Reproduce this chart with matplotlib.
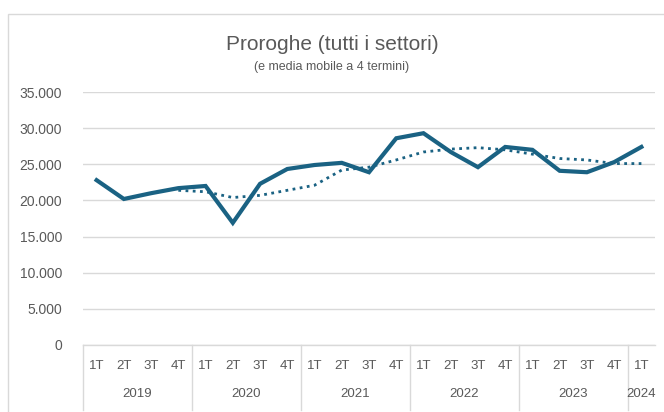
import matplotlib.pyplot as plt
import matplotlib.transforms as mtransforms
from matplotlib.patches import Rectangle

plt.rcParams['font.family'] = ['Liberation Sans', 'DejaVu Sans']

years = ['2019', '2020', '2021', '2022', '2023', '2024']
quarters = ['1T', '2T', '3T', '4T'] * 5 + ['1T']
proroghe = [22800, 20200, 21000, 21700,
            22000, 16900, 22300, 24350,
            24900, 25200, 23900, 28600,
            29300, 26700, 24600, 27400,
            27000, 24100, 23900, 25300,
            27400]
# media mobile a 4 termini (parte dal 4T 2019)
media_mobile = [21400, 21200, 20400, 20700, 21400,
                22100, 24200, 24600, 25600,
                26700, 27100, 27300, 27000,
                26400, 25800, 25600, 25100,
                25100]

blue = '#1a6283'
grey = '#595959'

fig = plt.figure(figsize=(6.64, 4.12), dpi=100)
fig.patches.append(Rectangle((8/664, -0.2), 1.0, 1.2 - 14/412, transform=fig.transFigure,
                             fill=False, edgecolor='#d9d9d9', linewidth=1))
ax = fig.add_axes([83/664, 1 - 345/412, (655 - 83)/664, (345 - 92)/412])

x = list(range(len(proroghe)))
ax.plot(x, proroghe, color=blue, linewidth=3, solid_joinstyle='miter')
ax.plot(x[3:], media_mobile, color=blue, linewidth=2, linestyle=(0, (1, 1.6)))

ax.set_xlim(-0.5, len(proroghe) - 0.5)
ax.set_ylim(0, 35000)
ax.set_yticks(range(0, 35001, 5000))
ax.set_yticklabels([f'{v:,}'.replace(',', '.') for v in range(0, 35001, 5000)])
ax.yaxis.grid(True, color='#d9d9d9', linewidth=1)
ax.set_axisbelow(True)
for s in ax.spines.values():
    s.set_visible(False)
ax.tick_params(axis='y', length=0, pad=15, labelsize=10, labelcolor=grey)
ax.tick_params(axis='x', length=0, pad=11, labelsize=9.5, labelcolor=grey)
ax.set_xticks(x)
ax.set_xticklabels(quarters)

# asse delle categorie a due livelli
trans = mtransforms.blended_transform_factory(ax.transData, ax.transAxes)
ax.plot([-0.5, len(proroghe) - 0.5], [0, 0], color='#d9d9d9', linewidth=1,
        transform=trans, clip_on=False)
start = 0
for yr in years:
    n = quarters[start:].index('1T', 1) if '1T' in quarters[start + 1:] else len(quarters) - start
    ax.plot([start - 0.5, start - 0.5], [0, -0.255], color='#d9d9d9', linewidth=1,
            transform=trans, clip_on=False)
    ax.text(start + (n - 1) / 2, -0.195, yr, transform=trans, ha='center', va='center',
            fontsize=9.5, color=grey)
    start += n

fig.text(0.5, 1 - 44/412, 'Proroghe (tutti i settori)', ha='center', va='center',
         fontsize=15, color=grey)
fig.text(0.5, 1 - 67/412, '(e media mobile a 4 termini)', ha='center', va='center',
         fontsize=9, color=grey)

fig.savefig('out.png', dpi=100)
